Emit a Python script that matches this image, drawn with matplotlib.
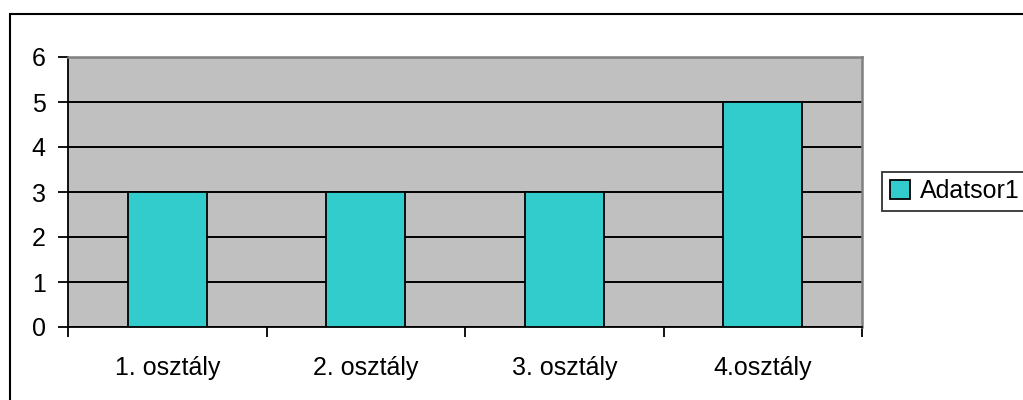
import matplotlib
matplotlib.use('Agg')
import matplotlib.pyplot as plt
from matplotlib.patches import Rectangle

# adatok
categories = ["1. osztály", "2. osztály", "3. osztály", "4.osztály"]
values = [3, 3, 3, 5]
series_name = "Adatsor1"
y_ticks = [0, 1, 2, 3, 4, 5, 6]

plt.rcParams['font.family'] = ['Liberation Sans', 'DejaVu Sans']

W, H = 1023, 400
fig = plt.figure(figsize=(W / 100, H / 100), dpi=100)

# outer chart border (runs off the right and bottom edge)
fig.patches.append(Rectangle((10 / W, -0.05), 1.1, (H - 14) / H + 0.05,
                             transform=fig.transFigure, fill=False,
                             edgecolor='black', linewidth=1.5))

left, right, top, bottom = 68, 862, 57, 327
ax = fig.add_axes([left / W, (H - bottom) / H, (right - left) / W, (bottom - top) / H])
ax.set_facecolor('#C0C0C0')

x = list(range(len(categories)))
ax.bar(x, values, width=0.4, color='#33CCCC', edgecolor='black',
       linewidth=1.3, label=series_name, zorder=3)

ax.set_xlim(-0.5, len(categories) - 0.5)
ax.set_ylim(0, 6)
ax.set_yticks(y_ticks)
ax.yaxis.grid(True, color='black', linewidth=1.4, zorder=1)
ax.set_axisbelow(True)

# category boundaries as major ticks, labels at the centers
ax.set_xticks([i - 0.5 for i in range(len(categories) + 1)])
ax.set_xticklabels([])
ax.set_xticks(x, minor=True)
ax.set_xticklabels(categories, minor=True)
ax.tick_params(axis='x', which='major', length=7, width=1.3, direction='out')
ax.tick_params(axis='x', which='minor', length=0, pad=21, labelsize=18)
ax.tick_params(axis='y', length=7, width=1.3, direction='out', pad=9, labelsize=18)

for s in ['top', 'right']:
    ax.spines[s].set_color('#808080')
    ax.spines[s].set_linewidth(1.8)
for s in ['left', 'bottom']:
    ax.spines[s].set_color('black')
    ax.spines[s].set_linewidth(1.3)

leg = ax.legend(loc='center left', bbox_to_anchor=(882 / W, 1 - 191 / H),
                bbox_transform=fig.transFigure, frameon=True, fancybox=False,
                fontsize=18, handlelength=0.8, handleheight=0.8,
                handletextpad=0.4, borderpad=0.3, borderaxespad=0)
leg.get_frame().set_edgecolor('black')
leg.get_frame().set_linewidth(1.3)

fig.savefig('out.png', dpi=100)
